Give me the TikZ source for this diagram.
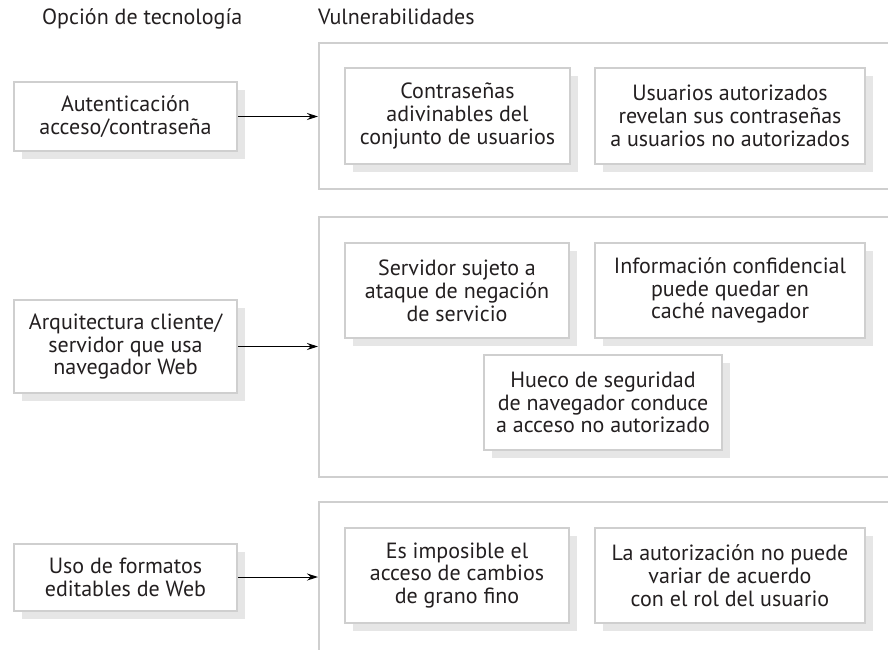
\documentclass[tikz,border=0pt]{standalone}
\usepackage{fontspec}
\setmainfont{PT Sans}
\usetikzlibrary{shadows,arrows.meta}
\definecolor{boxgray}{HTML}{CFCFCF}
\definecolor{shadgray}{HTML}{E6E6E6}
\definecolor{txt}{HTML}{231F20}
\begin{document}
\begin{tikzpicture}[x=1pt,y=-1pt,
  vbox/.style={draw=boxgray,line width=2pt,fill=white,align=center,inner sep=0pt,
    text=txt,font=\fontsize{22}{22.8}\selectfont,
    drop shadow={shadow xshift=8pt,shadow yshift=-8pt,fill=shadgray,opacity=1}},
  panel/.style={draw=boxgray,line width=2pt},
  conn/.style={draw=black,line width=1pt,-{Stealth[length=11pt,width=7pt]}},
  hdr/.style={text=txt,font=\fontsize{22}{22.8}\selectfont,inner sep=0pt}]
\useasboundingbox (0,0) rectangle (888,649);
\fill[white] (0,0) rectangle (888,649);
% headers
\node[hdr,anchor=base west] (h1) at (42,24) {Opción de tecnología};
\node[hdr,anchor=base west] (h2) at (318,24) {Vulnerabilidades};
% panels (open at the right)
\draw[panel] (888,43) -- (319,43) -- (319,189) -- (888,189);
\draw[panel] (888,217) -- (319,217) -- (319,477) -- (888,477);
\draw[panel] (888,502) -- (319,502) -- (319,660);
\coordinate (p1) at (318,116.5);
\coordinate (p2) at (318,346.5);
\coordinate (p3) at (318,577);
% left boxes
\node[vbox,minimum width=223pt,minimum height=69pt] (l1) at (125.5,116.5) {Autenticación\\acceso/contraseña};
\node[vbox,minimum width=223pt,minimum height=93pt] (l2) at (125.5,346.5) {Arquitectura cliente/\\servidor que usa\\navegador Web};
\node[vbox,minimum width=223pt,minimum height=67pt] (l3) at (125.5,577) {Uso de formatos\\editables de Web};
% vulnerability boxes
\node[vbox,minimum width=225pt,minimum height=96pt] (c1) at (457.5,116) {Contraseñas\\adivinables del\\conjunto de usuarios};
\node[vbox,minimum width=270pt,minimum height=96pt] (u1) at (730,116) {Usuarios autorizados\\revelan sus contraseñas\\a usuarios no autorizados};
\node[vbox,minimum width=224pt,minimum height=95pt] (s2) at (457,290.5) {Servidor sujeto a\\ataque de negación\\de servicio};
\node[vbox,minimum width=270pt,minimum height=95pt] (i2) at (730,290.5) {Información confidencial\\puede quedar en\\caché navegador};
\node[vbox,minimum width=238pt,minimum height=95pt] (h3) at (603,402.5) {Hueco de seguridad\\de navegador conduce\\a acceso no autorizado};
\node[vbox,minimum width=224pt,minimum height=95pt] (e3) at (457,575.5) {Es imposible el\\acceso de cambios\\de grano fino};
\node[vbox,minimum width=270pt,minimum height=95pt] (a3) at (730,575.5) {La autorización no puede\\variar de acuerdo\\con el rol del usuario};
% connectors
\draw[conn] (l1.east) -- (p1);
\draw[conn] (l2.east) -- (p2);
\draw[conn] (l3.east) -- (p3);
\end{tikzpicture}
\end{document}
